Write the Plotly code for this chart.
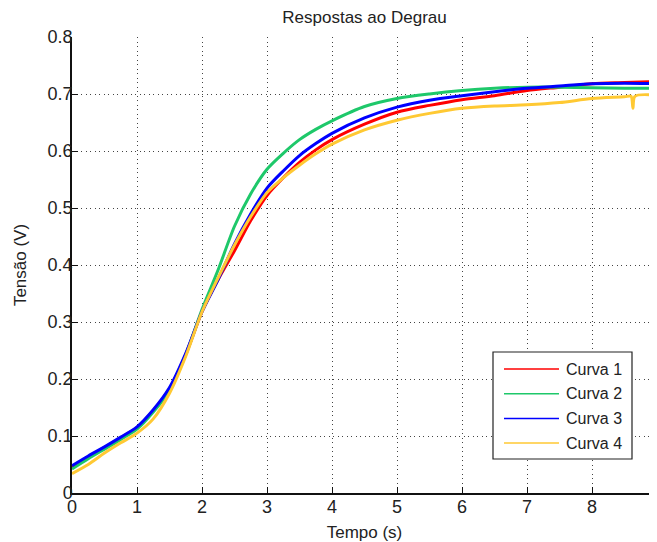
import plotly.graph_objects as go

tempo = [0, 0.25, 0.5, 0.75, 1, 1.25, 1.5, 1.75, 2, 2.25, 2.5, 2.75, 3, 3.25, 3.5,
         3.75, 4, 4.5, 5, 5.5, 6, 6.5, 7, 7.5, 8, 8.5, 9]
tempo4 = [0, 0.25, 0.5, 0.75, 1, 1.25, 1.5, 1.75, 2, 2.25, 2.5, 2.75, 3, 3.25, 3.5,
          3.75, 4, 4.5, 5, 5.5, 6, 6.5, 7, 7.5, 8, 8.5, 8.6, 8.63, 8.66, 9]

curva1 = [0.044, 0.063, 0.080, 0.097, 0.115, 0.145, 0.183, 0.243, 0.318, 0.375, 0.425,
          0.478, 0.522, 0.553, 0.580, 0.602, 0.620, 0.647, 0.668, 0.680, 0.690, 0.697,
          0.706, 0.712, 0.718, 0.720, 0.722]
curva2 = [0.042, 0.060, 0.077, 0.094, 0.112, 0.142, 0.180, 0.243, 0.322, 0.392, 0.468,
          0.525, 0.568, 0.596, 0.620, 0.638, 0.653, 0.678, 0.692, 0.700, 0.706, 0.710,
          0.712, 0.712, 0.711, 0.710, 0.710]
curva3 = [0.048, 0.065, 0.081, 0.098, 0.116, 0.146, 0.185, 0.245, 0.318, 0.375, 0.437,
          0.490, 0.535, 0.565, 0.592, 0.613, 0.631, 0.658, 0.677, 0.689, 0.697, 0.704,
          0.710, 0.714, 0.718, 0.719, 0.718]
curva4 = [0.034, 0.050, 0.070, 0.088, 0.105, 0.130, 0.175, 0.240, 0.318, 0.378, 0.435,
          0.485, 0.527, 0.553, 0.575, 0.595, 0.612, 0.637, 0.654, 0.666, 0.675, 0.679,
          0.681, 0.685, 0.692, 0.695, 0.696, 0.675, 0.696, 0.698]

nomes = ["Curva 1", "Curva 2", "Curva 3", "Curva 4"]
cores = ["#ff0000", "#1ec86a", "#0000ff", "#ffc933"]
series = [(tempo, curva1), (tempo, curva2), (tempo, curva3), (tempo4, curva4)]

xticks = [0, 1, 2, 3, 4, 5, 6, 7, 8, 9]
yticks = [0, 0.1, 0.2, 0.3, 0.4, 0.5, 0.6, 0.7, 0.8]
ytick_text = ["0", "0.1", "0.2", "0.3", "0.4", "0.5", "0.6", "0.7", "0.8"]

FONT = "Liberation Sans, Arial, sans-serif"
TXT = "#222222"

# the page body adds an 8px offset; layout below is expressed in screen pixels
OFF = 8
W, H = 657 - OFF, 542 - OFF
L, R, T, B = 72 - OFF, 657 - OFF, 37 - OFF, 493 - OFF


def px(x):
    return (x - OFF - L) / (R - L)


def py(y):
    return (B - (y - OFF)) / (B - T)


fig = go.Figure()
for nome, cor, (xs, ys) in zip(nomes, cores, series):
    fig.add_trace(go.Scatter(x=xs, y=ys, mode="lines", name=nome, showlegend=False,
                             line=dict(color=cor, width=3, shape="spline", smoothing=0.8)))

# legend drawn as box + sample lines + labels (screen pixel positions)
shapes = [dict(type="rect", xref="paper", yref="paper",
               x0=px(493), x1=px(632), y0=py(459), y1=py(352),
               line=dict(color="#222222", width=1.2), fillcolor="white", layer="above")]
annotations = []
for i, (nome, cor) in enumerate(zip(nomes, cores)):
    yy = 369 + i * 24.7
    shapes.append(dict(type="line", xref="paper", yref="paper",
                       x0=px(504), x1=px(559), y0=py(yy), y1=py(yy),
                       line=dict(color=cor, width=1.5), layer="above"))
    annotations.append(dict(text=nome, xref="paper", yref="paper", x=px(564), y=py(yy),
                            xanchor="left", yanchor="middle", showarrow=False,
                            font=dict(size=16, color=TXT, family=FONT)))

fig.update_layout(
    width=W, height=H,
    margin=dict(l=L, r=W - R, t=T, b=H - B),
    paper_bgcolor="white", plot_bgcolor="white",
    font=dict(family=FONT, size=16, color=TXT),
    title=dict(text="Respostas ao Degrau", x=(L + R) / 2 / W, xanchor="center",
               y=1 - (17 - OFF) / H, yanchor="middle", font=dict(size=17, color=TXT)),
    shapes=shapes, annotations=annotations,
    showlegend=False,
)

fig.update_xaxes(range=[0, 9], tickvals=xticks, ticktext=[str(v) for v in xticks],
                 automargin=False, ticklabeloverflow="allow",
                 showline=True, linecolor="#111111", linewidth=1.5, mirror=False,
                 ticks="inside", ticklen=6, tickcolor="#111111", ticklabelstandoff=-3,
                 showgrid=True, gridcolor="#444444", gridwidth=1, griddash="1px,3.5px",
                 zeroline=False, tickfont=dict(size=18),
                 title=dict(text="Tempo (s)", font=dict(size=17), standoff=10))
fig.update_yaxes(range=[0, 0.8], tickvals=yticks, ticktext=ytick_text,
                 automargin=False,
                 showline=True, linecolor="#111111", linewidth=1.5, mirror=False,
                 ticks="inside", ticklen=6, tickcolor="#111111", ticklabelstandoff=-6,
                 showgrid=True, gridcolor="#444444", gridwidth=1, griddash="1px,3.5px",
                 zeroline=False, tickfont=dict(size=18),
                 title=dict(text="Tensão (V)", font=dict(size=17), standoff=17))

fig.write_html("out.html")
